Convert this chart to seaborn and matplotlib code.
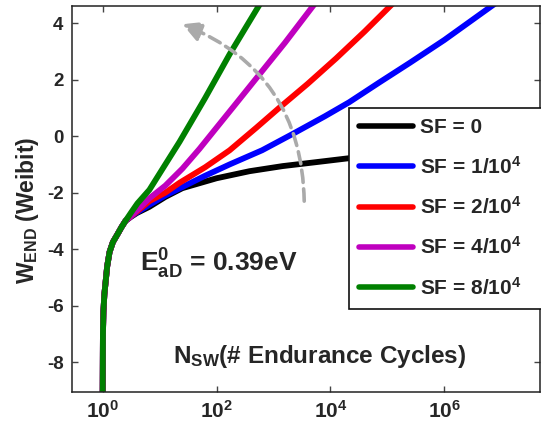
import numpy as np
import pandas as pd
import matplotlib
matplotlib.use("Agg")
import matplotlib.pyplot as plt
import seaborn as sns

# ---------------- data ----------------
series_labels = ["SF = 0", "SF = 1/10$^{4}$", "SF = 2/10$^{4}$",
                 "SF = 4/10$^{4}$", "SF = 8/10$^{4}$"]
series_colors = ["#000000", "#0000ff", "#ff0000", "#bf00bf", "#008000"]

# shared steep initial rise (all curves coincide here)
n_start = [1.0, 1.01, 1.03, 1.07, 1.12, 1.2, 1.32, 1.51, 1.82, 2.14, 2.51]
w_start = [-9.2, -7.0, -6.2, -5.6, -5.2, -4.6, -4.1, -3.75, -3.47, -3.22, -3.0]

n_sf0 = [3.16, 3.98, 6.61, 12.6, 25.1, 100, 380, 1445, 5623, 21380, 1.0e5, 3.98e5]
w_sf0 = [-2.85, -2.72, -2.5, -2.15, -1.84, -1.49, -1.24, -1.06, -0.92, -0.78, -0.62, -0.48]

n_sf1 = [3.16, 3.98, 6.61, 12.6, 25.1, 63.1, 170, 631, 2138, 7943, 21380, 72440,
         2.512e5, 1.0e6, 7.94e6]
w_sf1 = [-2.84, -2.7, -2.43, -2.1, -1.8, -1.4, -1.0, -0.5, 0.07, 0.7, 1.2, 1.9,
         2.6, 3.4, 4.7]

n_sf2 = [3.16, 3.98, 6.61, 12.6, 22.4, 63.1, 170, 501, 1259, 3981, 12590, 39810, 1.259e5]
w_sf2 = [-2.83, -2.67, -2.3, -2.0, -1.65, -1.1, -0.5, 0.3, 1.0, 1.85, 2.75, 3.7, 4.7]

n_sf4 = [3.16, 3.98, 6.61, 12.6, 25.1, 50.1, 100, 200, 501, 1585, 5623]
w_sf4 = [-2.82, -2.63, -2.2, -1.75, -1.15, -0.45, 0.3, 1.05, 2.05, 3.3, 4.75]

n_sf8 = [3.16, 4.07, 6.61, 12.6, 22.4, 63.1, 170, 316, 631]
w_sf8 = [-2.7, -2.38, -1.9, -1.0, -0.2, 1.35, 2.9, 3.8, 4.8]

x_ticks = [1e0, 1e2, 1e4, 1e6]
y_ticks = [-8, -6, -4, -2, 0, 2, 4]

# arrow annotation (data coords): tail and head
arrow_tail = (3467, -2.3)
arrow_head = (25.1, 3.96)

# ---------------- build table ----------------
frames = []
for lab, n, w in zip(series_labels,
                     [n_sf0, n_sf1, n_sf2, n_sf4, n_sf8],
                     [w_sf0, w_sf1, w_sf2, w_sf4, w_sf8]):
    frames.append(pd.DataFrame({"N": n_start + n, "W": w_start + w, "series": lab}))
df = pd.concat(frames, ignore_index=True)

# ---------------- style ----------------
sns.set_theme(style="ticks")
plt.rcParams.update({
    "font.family": ["Liberation Sans", "DejaVu Sans"],
    "font.weight": "bold",
    "axes.unicode_minus": False,
    "mathtext.fontset": "custom",
    "mathtext.rm": "Liberation Sans:bold",
    "mathtext.bf": "Liberation Sans:bold",
    "mathtext.it": "Liberation Sans:bold",
    "mathtext.sf": "Liberation Sans:bold",
    "mathtext.default": "bf",
})

fig = plt.figure(figsize=(5.41, 4.36), dpi=100)
ax = fig.add_axes([0.133, 0.101, 0.865, 0.885])

sns.lineplot(data=df, x="N", y="W", hue="series", hue_order=series_labels,
             palette=dict(zip(series_labels, series_colors)), sort=False,
             estimator=None, lw=4.2, ax=ax, legend=False)

ax.set_xscale("log")
ax.set_xlim(10 ** -0.54, 10 ** 7.68)
ax.set_ylim(-9.05, 4.6)
ax.set_xticks(x_ticks)
ax.minorticks_off()
ax.xaxis.set_minor_locator(matplotlib.ticker.NullLocator())
ax.set_yticks(y_ticks)

for s in ax.spines.values():
    s.set_visible(True)
    s.set_linewidth(1.1)
    s.set_color("#222222")

ax.tick_params(axis="both", direction="in", top=True, right=True,
               length=4, width=1, color="#444444")
ax.tick_params(axis="x", labelsize=15, pad=6)
ax.tick_params(axis="y", labelsize=13.5, pad=6)
for t in ax.get_yticklabels():
    t.set_fontweight("bold")

ax.set_ylabel("W$_{END}$ (Weibit)", fontsize=16.5, fontweight="bold")
ax.yaxis.set_label_coords(-0.066, 0.472)
ax.set_xlabel("N$_{SW}$(# Endurance Cycles)", fontsize=17.5, fontweight="bold")
ax.xaxis.set_label_coords(0.53, 0.128)

ax.text(0.145, 0.311, "$E^{0}_{aD}$ = 0.39eV", transform=ax.transAxes,
        fontsize=19, fontweight="bold", ha="left", va="baseline")

# curved dashed arrow
ax.annotate("", xy=arrow_head, xytext=arrow_tail,
            arrowprops=dict(arrowstyle="-|>,head_length=0.75,head_width=0.4",
                            mutation_scale=15, color="#aaaaaa", lw=2.6,
                            linestyle=(0, (3.4, 1.8)),
                            connectionstyle="arc3,rad=0.33",
                            shrinkA=0, shrinkB=0))

handles = ax.get_lines()[:5]
leg = ax.legend(handles, series_labels, loc="upper left",
                bbox_to_anchor=(0.592, 0.212, 0.6, 0.524), mode="expand",
                frameon=True, fancybox=False, framealpha=1, edgecolor="#111111",
                prop={"weight": "bold", "size": 15}, handlelength=2.55,
                handletextpad=0.35, labelspacing=0.88, borderpad=0.5,
                borderaxespad=0)
leg.get_frame().set_linewidth(1.2)
for l in leg.get_lines():
    l.set_linewidth(4)

fig.savefig("out.png", dpi=100)
